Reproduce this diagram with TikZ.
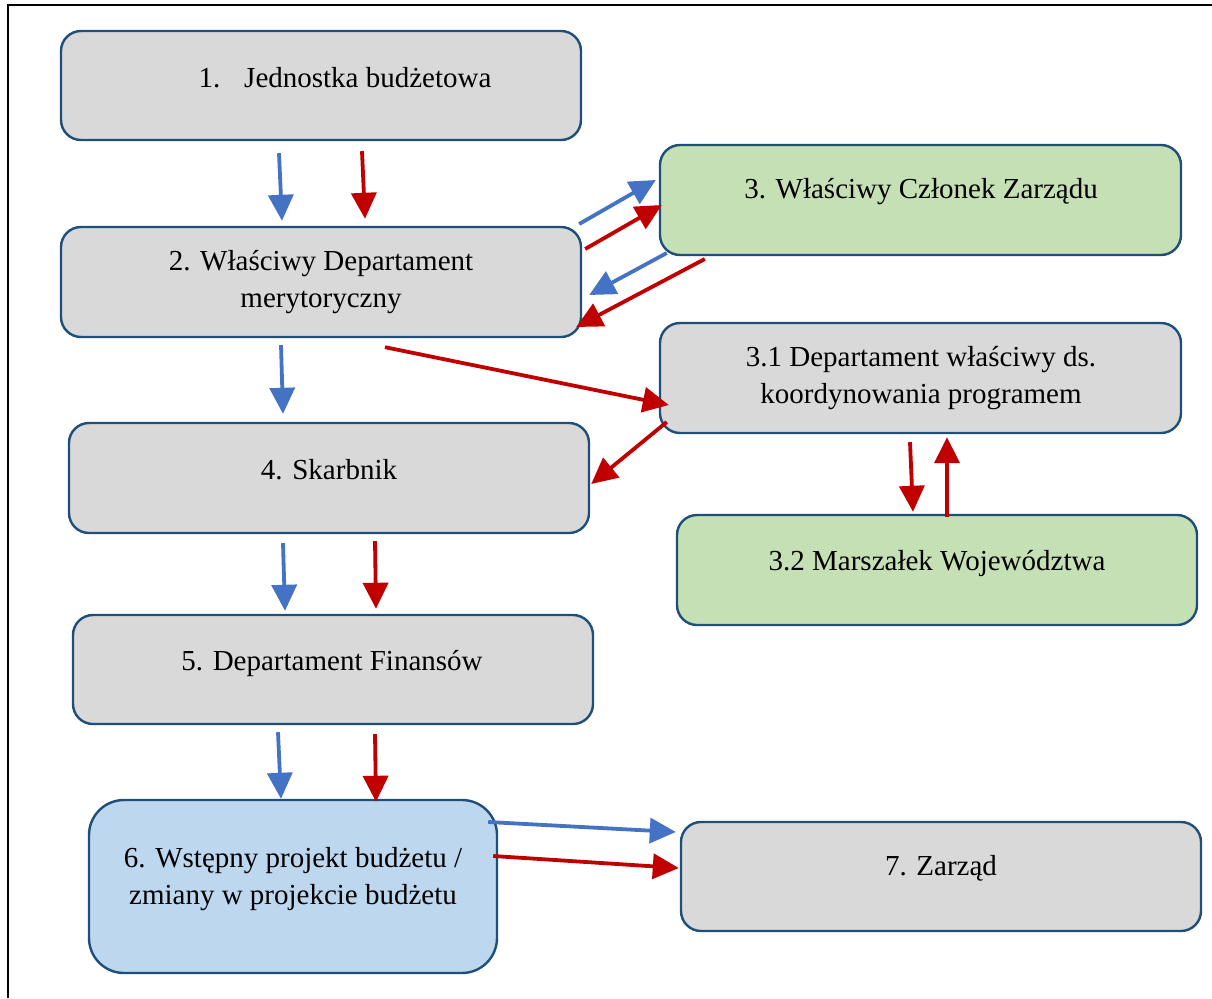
\documentclass[tikz,border=0pt]{standalone}
\usepackage{fontspec}
\setmainfont{Liberation Serif}
\usetikzlibrary{arrows.meta,calc}
\definecolor{bordc}{HTML}{1F4E79}
\definecolor{greyf}{HTML}{D9D9D9}
\definecolor{greenf}{HTML}{C5E0B4}
\definecolor{bluef}{HTML}{BDD7EE}
\definecolor{arblue}{HTML}{4472C4}
\definecolor{arred}{HTML}{C00000}
\tikzset{
  box/.style={draw=bordc, line width=2.4pt, rounded corners=20pt, fill=greyf,
    minimum width=520pt, minimum height=109pt, inner sep=0pt},
  gbox/.style={box, fill=greenf},
  bbox/.style={box, fill=bluef, rounded corners=35pt},
  lbl/.style={font=\fontsize{29}{37}\selectfont, align=center, inner sep=0pt},
  ab/.style={draw=arblue, line width=3.8pt, -{Triangle[length=26pt,width=25pt]}},
  ar/.style={draw=arred, line width=3.8pt, -{Triangle[length=26pt,width=25pt]}},
}
\begin{document}
\begin{tikzpicture}[x=1pt,y=1pt]
\useasboundingbox (0,0) rectangle (1212,-998);
\draw[line width=1.5pt] (8,-998) -- (8,-5) -- (1212,-5);
% boxes
\node[box] (b1) at (321,-85.5) {};
\node[lbl] at (345,-78) {1.\hspace{24pt}Jednostka budżetowa};
\node[box, minimum height=110pt] (b2) at (321,-282) {};
\node[lbl] at (321,-282) {2. Właściwy Departament\\merytoryczny};
\node[gbox, minimum width=521pt, minimum height=110pt] (b3) at (920.5,-200) {};
\node[lbl] at (921,-192) {3. Właściwy Członek Zarządu};
\node[box, minimum width=521pt, minimum height=110pt] (b31) at (920.5,-378) {};
\node[lbl] at (921,-378) {3.1 Departament właściwy ds.\\koordynowania programem};
\node[box, minimum height=110pt] (b4) at (329,-478) {};
\node[lbl] at (329,-470) {4. Skarbnik};
\node[gbox, minimum height=110pt] (b32) at (937,-570) {};
\node[lbl] at (937,-563) {3.2 Marszałek Województwa};
\node[box] (b5) at (333,-669.5) {};
\node[lbl] at (332,-663) {5. Departament Finansów};
\node[bbox, minimum width=408pt, minimum height=173pt] (b6) at (293,-886.5) {};
\node[lbl] at (293,-879) {6. Wstępny projekt budżetu /\\zmiany w projekcie budżetu};
\node[box] (b7) at (941,-876.5) {};
\node[lbl] at (941,-868) {7. Zarząd};
% connectors
\draw[ab] ([shift={(-42,-12)}]b1.south) -- ([shift={(-39,5)}]b2.north);
\draw[ar] ([shift={(41,-10)}]b1.south) -- ([shift={(44,7)}]b2.north);
\draw[ab] ([shift={(-3,58)}]b2.east) -- ([shift={(-3,20)}]b3.west);
\draw[ar] ([shift={(3,33)}]b2.east) -- ([shift={(3,-5)}]b3.west);
\draw[ab] ([shift={(8,-53)}]b3.west) -- ([shift={(7,-13)}]b2.east);
\draw[ar] ([shift={(46,-59)}]b3.west) -- ([shift={(-6,-45)}]b2.east);
\draw[ab] ([shift={(-40,-7)}]b2.south) -- ([shift={(-46,8)}]b4.north);
\draw[ar] ([shift={(64,-9)}]b2.south) -- ([shift={(10,-27)}]b31.west);
\draw[ar] ([shift={(8,-44)}]b31.west) -- ([shift={(1,-6)}]b4.east);
\draw[ar] ([shift={(-10.5,-8)}]b31.south) -- ([shift={(-24,2)}]b32.north);
\draw[ar] ([shift={(10,-3)}]b32.north) -- ([shift={(26.5,-3)}]b31.south);
\draw[ab] ([shift={(-46,-9)}]b4.south) -- ([shift={(-48,3)}]b5.north);
\draw[ar] ([shift={(46,-7)}]b4.south) -- ([shift={(43,5)}]b5.north);
\draw[ab] ([shift={(-55,-7)}]b5.south) -- ([shift={(-12,0)}]b6.north);
\draw[ar] ([shift={(42,-9)}]b5.south) -- ([shift={(83,-3)}]b6.north);
\draw[ab] ([shift={(-10,64.5)}]b6.east) -- ([shift={(-4,44.5)}]b7.west);
\draw[ar] ([shift={(-5,30.5)}]b6.east) -- ([shift={(-1,8.5)}]b7.west);
\end{tikzpicture}
\end{document}
